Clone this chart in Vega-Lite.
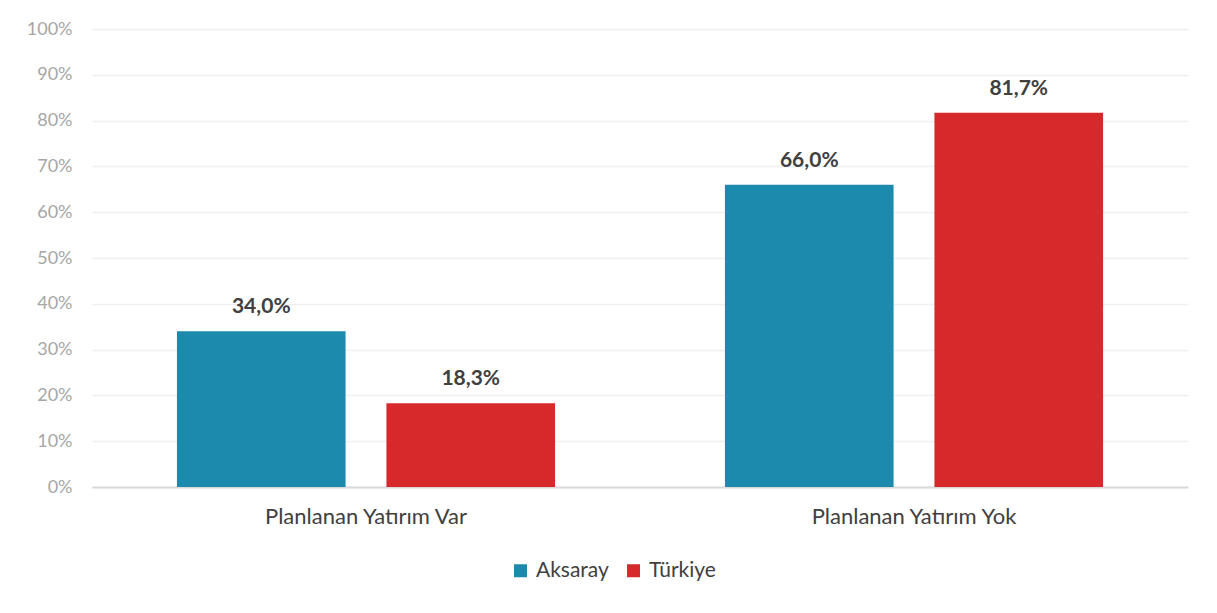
{
  "$schema": "https://vega.github.io/schema/vega-lite/v6.json",
  "width": 1096,
  "height": 458,
  "autosize": {"type": "none"},
  "padding": {"left": 92, "top": 29, "right": 29, "bottom": 126},
  "background": "white",
  "config": {
    "locale": {"number": {"decimal": ",", "thousands": ".", "grouping": [3], "currency": ["", " ₺"]}},
    "view": {"stroke": null},
    "font": "Lato"
  },
  "data": {
    "values": [
      {"kategori": "Planlanan Yatırım Var", "bolge": "Aksaray", "oran": 0.34},
      {"kategori": "Planlanan Yatırım Var", "bolge": "Türkiye", "oran": 0.183},
      {"kategori": "Planlanan Yatırım Yok", "bolge": "Aksaray", "oran": 0.66},
      {"kategori": "Planlanan Yatırım Yok", "bolge": "Türkiye", "oran": 0.817}
    ]
  },
  "encoding": {
    "x": {
      "field": "kategori", "type": "nominal", "title": null,
      "scale": {"paddingInner": 0.31, "paddingOuter": 0.155},
      "axis": {"labelAngle": 0, "ticks": false, "domainColor": "#d9d9d9", "domainWidth": 2, "labelFontSize": 22, "labelLimit": 0, "labelColor": "#404040", "labelPadding": 19, "labelFont": "Lato"}
    },
    "xOffset": {"field": "bolge", "type": "nominal", "scale": {"paddingInner": 0.195, "paddingOuter": 0}},
    "y": {
      "field": "oran", "type": "quantitative", "title": null,
      "scale": {"domain": [0, 1], "nice": false},
      "axis": {"format": ".0%", "values": [0,0.1,0.2,0.3,0.4,0.5,0.6,0.7,0.8,0.9,1], "labelOverlap": false, "ticks": false, "domain": false, "gridColor": "#f0f0f0", "gridWidth": 1.5, "labelFontSize": 18, "labelColor": "#a6a6a6", "labelPadding": 20}
    }
  },
  "layer": [
    {
      "mark": {"type": "bar"},
      "encoding": {
        "color": {
          "field": "bolge", "type": "nominal", "title": null,
          "scale": {"domain": ["Aksaray", "Türkiye"], "range": ["#1b8aad", "#d7282b"]},
          "legend": {"orient": "none", "legendX": 418, "legendY": 531, "direction": "horizontal", "symbolType": "square", "symbolSize": 169, "symbolStrokeWidth": 0, "labelFontSize": 21, "labelColor": "#404040", "columnPadding": 14, "labelOffset": 5}
        }
      }
    },
    {
      "mark": {"type": "text", "baseline": "alphabetic", "dy": -18, "fontSize": 21, "fontWeight": "bold", "color": "#404040"},
      "encoding": {
        "text": {"field": "oran", "type": "quantitative", "format": ".1%"}
      }
    }
  ]
}
